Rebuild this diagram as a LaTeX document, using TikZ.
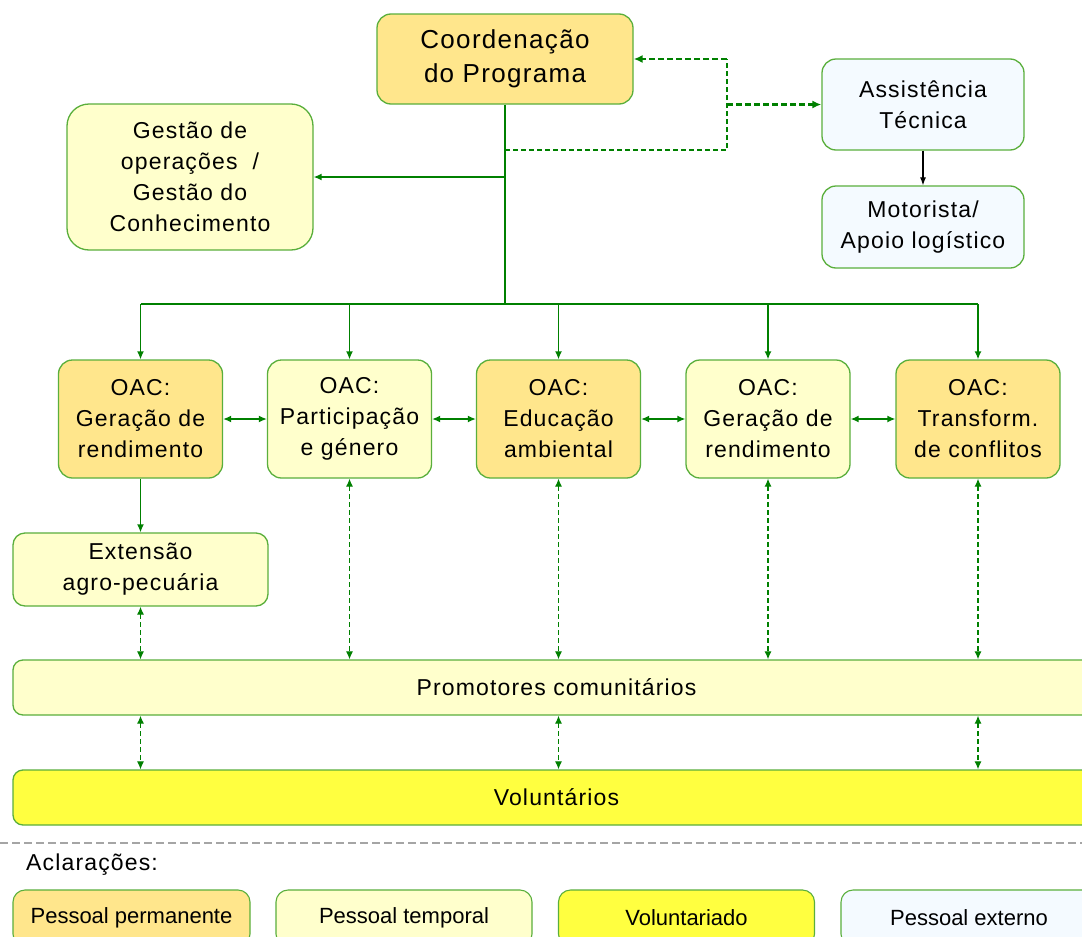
\documentclass[tikz,border=0pt]{standalone}
\usepackage{fontspec}
\setmainfont{Liberation Sans}
\newfontfamily\spacedf[LetterSpace=5]{Liberation Sans}
\usetikzlibrary{arrows.meta,calc}
\definecolor{perm}{RGB}{255,230,140}
\definecolor{temp}{RGB}{255,255,204}
\definecolor{volc}{RGB}{255,255,64}
\definecolor{extc}{RGB}{244,250,255}
\definecolor{bordc}{RGB}{90,175,60}
\definecolor{linec}{RGB}{0,128,0}
\definecolor{sepc}{RGB}{165,165,165}
\begin{document}
\begin{tikzpicture}[x=1pt,y=-1pt,
  box/.style={draw=bordc, line width=1.3pt, rounded corners=14pt, align=center, inner sep=0pt,
    font=\spacedf\fontsize{23}{31}\selectfont},
  legbox/.style={draw=bordc, line width=1.1pt, rounded corners=12pt, align=center, inner sep=0pt,
    minimum width=237pt, minimum height=56pt, font=\fontsize{22}{26}\selectfont},
  oac/.style={box, minimum width=164pt, minimum height=118pt},
  solidln/.style={draw=linec, line width=1.4pt},
  arr/.style={solidln, -{Latex[length=8pt,width=7pt]}},
  darr/.style={solidln, {Latex[length=8pt,width=7pt]}-{Latex[length=8pt,width=7pt]}},
  dashln/.style={draw=linec, line width=1.2pt, dash pattern=on 5pt off 3pt},
  thickdash/.style={draw=linec, line width=2.2pt, dash pattern=on 6pt off 3pt},
  ddarr/.style={dashln, {Latex[length=8pt,width=7pt]}-{Latex[length=8pt,width=7pt]}},
]
\useasboundingbox (0,0) rectangle (1082,937);
\clip (0,0) rectangle (1082,937);
\fill[white] (0,0) rectangle (1082,937);

% top nodes
\node[box, fill=perm, minimum width=256pt, minimum height=90pt, font=\spacedf\fontsize{26}{34}\selectfont]
  (coord) at (505,59) {Coordenação\\do Programa};
\node[box, fill=extc, minimum width=202pt, minimum height=91pt] (assist) at (923,104.5) {Assistência\\Técnica};
\node[box, fill=extc, minimum width=202pt, minimum height=82pt] (motor) at (923,227) {Motorista/\\Apoio logístico};
\node[box, fill=temp, minimum width=246pt, minimum height=146pt, rounded corners=22pt] (gest) at (190,177)
  {Gestão de\\operações~~/\\Gestão do\\Conhecimento};

% OAC nodes
\node[oac, fill=perm] (oac1) at (140.5,419) {OAC:\\Geração de\\rendimento};
\node[oac, fill=temp] (oac2) at (349.5,419) {OAC:\\Participação\\e género};
\node[oac, fill=perm] (oac3) at (558.5,419) {OAC:\\Educação\\ambiental};
\node[oac, fill=temp] (oac4) at (768,419) {OAC:\\Geração de\\rendimento};
\node[oac, fill=perm] (oac5) at (978,419) {OAC:\\Transform.\\de conflitos};

\node[box, fill=temp, minimum width=255pt, minimum height=73pt, rounded corners=12pt] (ext) at (140.5,569.5) {Extensão\\agro-pecuária};

\node[box, fill=temp, minimum width=1087pt, minimum height=55pt, rounded corners=10pt] (prom) at (556.5,687.5) {Promotores comunitários};
\node[box, fill=volc, minimum width=1087pt, minimum height=55pt, rounded corners=10pt] (vol) at (556.5,797.5) {Voluntários};

% connectors top
\coordinate (bus) at (505,304);
\coordinate (busL) at (oac1.north |- bus);
\coordinate (busR) at (oac5.north |- bus);
\draw[solidln] (coord.south) -- (bus);
\draw[solidln] (busL) -- (busR);
\draw[arr] (coord.south |- gest.east) -- (gest.east);
\foreach \i in {1,...,5} { \draw[arr] (oac\i.north |- bus) -- (oac\i.north); }

\coordinate (dA) at (505,150);
\coordinate (dB) at (727,150);
\coordinate (dC) at (727,59);
\coordinate (dD) at (727,104.5);
\draw[dashln] (dA) -- (dB) -- (dC);
\draw[thickdash, -{Latex[length=9pt,width=8pt]}] (dC) -- (coord.east);
\draw[thickdash, -{Latex[length=9pt,width=8pt]}] (dD) -- (assist.west);

\draw[line width=1.1pt, -{Latex[length=8pt,width=6pt]}] (assist.south) -- (motor.north);

% OAC horizontal links
\draw[darr] (oac1.east) -- (oac2.west);
\draw[darr] (oac2.east) -- (oac3.west);
\draw[darr] (oac3.east) -- (oac4.west);
\draw[darr] (oac4.east) -- (oac5.west);

\draw[arr] (oac1.south) -- (ext.north);

% dashed double arrows to promotores
\draw[ddarr] (ext.south) -- (ext.south |- prom.north);
\foreach \i in {2,...,5} { \draw[ddarr] (oac\i.south) -- (oac\i.south |- prom.north); }
\draw[ddarr] (oac1.south |- prom.south) -- (oac1.south |- vol.north);
\draw[ddarr] (oac3.south |- prom.south) -- (oac3.south |- vol.north);
\draw[ddarr] (oac5.south |- prom.south) -- (oac5.south |- vol.north);

% legend
\coordinate (sepL) at (0,843);
\coordinate (sepR) at (1082,843);
\draw[sepc, line width=1.4pt, dash pattern=on 8pt off 4pt] (sepL) -- (sepR);
\node[anchor=west, font=\spacedf\fontsize{23}{28}\selectfont, inner sep=0pt] (acl) at (26,865) {Aclarações:};
\node[legbox, fill=perm] (lg1) at (131.5,918) {Pessoal permanente};
\node[legbox, fill=temp, minimum width=256pt] (lg2) at (404,918) {Pessoal temporal};
\node[legbox, fill=volc, minimum width=256pt] (lg3) at (686.5,918) {Voluntariado};
\node[legbox, fill=extc, minimum width=256pt] (lg4) at (969,918) {Pessoal externo};
\end{tikzpicture}
\end{document}
